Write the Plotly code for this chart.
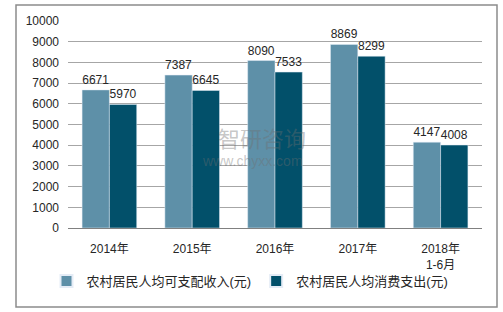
import plotly.graph_objects as go

categories = ["2014年", "2015年", "2016年", "2017年", "2018年<br>1-6月"]
income = [6671, 7387, 8090, 8869, 4147]
spending = [5970, 6645, 7533, 8299, 4008]
series_names = ["农村居民人均可支配收入(元)", "农村居民人均消费支出(元)"]
y_ticks = [0, 1000, 2000, 3000, 4000, 5000, 6000, 7000, 8000, 9000, 10000]
y_tick_text = [str(v) for v in y_ticks]

FONT = "Liberation Sans, Arial, Noto Sans CJK SC, sans-serif"

fig = go.Figure()
fig.add_trace(go.Bar(x=categories, y=income, name=series_names[0],
                     marker_color="#5e90a8", text=income, textposition="outside",
                     textfont=dict(size=12, color="#262626"), cliponaxis=False))
fig.add_trace(go.Bar(x=categories, y=spending, name=series_names[1],
                     marker_color="#02506a", text=spending, textposition="outside",
                     textfont=dict(size=12, color="#262626"), cliponaxis=False))

L, R, T, B = 68, 21, 21, 84
W, H = 503, 312
pw, ph = W - L - R, H - T - B

def px(x):
    return (x - L) / pw

def py(y):
    return (H - B - y) / ph

fig.update_layout(
    width=W, height=H,
    margin=dict(l=L, r=R, t=T, b=B),
    paper_bgcolor="white", plot_bgcolor="white",
    barmode="group", bargap=0.34, bargroupgap=0,
    font=dict(family=FONT, size=12, color="#262626"),
    showlegend=True,
    legend=dict(orientation="h", x=px(250), xanchor="center", y=py(281), yanchor="middle",
                font=dict(size=13, color="#262626"), itemwidth=30, traceorder="normal",
                itemsizing="constant", bgcolor="rgba(0,0,0,0)"),
    xaxis=dict(showline=True, linecolor="#808080", linewidth=1, ticks="",
               tickfont=dict(size=12), showgrid=False, ticklabelstandoff=10),
    yaxis=dict(range=[0, 10000], tickvals=y_ticks, ticktext=y_tick_text,
               showgrid=True, gridcolor="#a6a6a6",
               gridwidth=1, zeroline=False, ticks="", tickfont=dict(size=12),
               ticklabelstandoff=8),
    shapes=[dict(type="rect", xref="paper", yref="paper",
                 x0=px(16), x1=px(497), y0=py(307), y1=py(5),
                 line=dict(color="#8c8c8c", width=1.5), fillcolor="rgba(0,0,0,0)")],
    annotations=[
        dict(text="智研咨询", xref="paper", yref="paper", x=px(262), y=py(139),
             showarrow=False, font=dict(size=22, color="rgba(110,110,110,0.4)")),
        dict(text="www.chyxx.com", xref="paper", yref="paper", x=px(252), y=py(171),
             showarrow=False, font=dict(size=14, color="rgba(110,110,110,0.4)")),
    ],
)

fig.write_html("out.html")
